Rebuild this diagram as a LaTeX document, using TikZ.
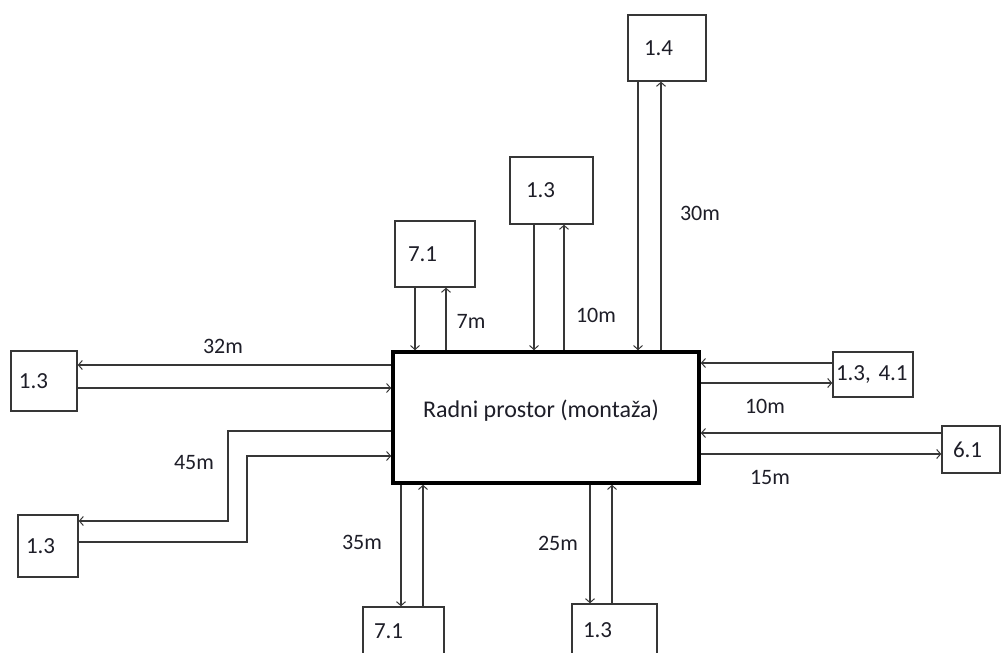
\documentclass[tikz,border=0pt]{standalone}
\usepackage{fontspec}
\setmainfont{Carlito}
\usetikzlibrary{arrows.meta}
\definecolor{ln}{HTML}{363636}
\definecolor{tx}{HTML}{1E1E28}
\tikzset{
  bx/.style={draw=ln, line width=1.4pt, rectangle, align=left, text=tx, font=\fontsize{23}{27}\selectfont, inner ysep=0pt},
  mainbox/.style={draw=black, line width=3.6pt, rectangle},
  conn/.style={draw=ln, line width=1.3pt, -{Straight Barb[length=4pt,width=9pt,line width=1pt]}},
  dist/.style={text=tx, font=\fontsize{22}{26}\selectfont, inner sep=0pt}
}
\begin{document}
\begin{tikzpicture}[x=1pt,y=-1pt]
\useasboundingbox (0,0) rectangle (1001,653);
\clip (0,0) rectangle (1001,653);
\fill[white] (0,0) rectangle (1001,653);
% main
\node[mainbox, minimum width=306pt, minimum height=131pt,
  label={[text=tx, font=\fontsize{24}{28}\selectfont, xshift=-5pt, yshift=7pt]center:Radni prostor (montaža)}] (M) at (546,417.5) {};
% boxes
\node[bx, minimum height=60pt, text width=50pt, inner xsep=8pt] (L1) at (44,381) {1.3};
\node[bx, minimum height=62pt, text width=44pt, inner xsep=8pt] (L2) at (48,546) {1.3};
\node[bx, minimum height=48pt, text width=59pt, inner xsep=11pt] (B1) at (403.5,631) {7.1};
\node[bx, minimum height=52pt, text width=63pt, inner xsep=11pt] (B2) at (614.5,630) {1.3};
\node[bx, minimum height=45pt, text width=74pt, inner xsep=3pt] (R1) at (873,374.5) {1.3, 4.1};
\node[bx, minimum height=47pt, text width=36pt, inner xsep=11pt] (R2) at (971,449.5) {6.1};
\node[bx, minimum height=66pt, text width=54pt, inner xsep=13pt] (T1) at (435,254) {7.1};
\node[bx, minimum height=67pt, text width=51pt, inner xsep=16pt] (T2) at (551.5,190.5) {1.3};
\node[bx, minimum height=66pt, text width=46pt, inner xsep=16pt] (T3) at (667,48) {1.4};
% helper coordinates
\coordinate (yl1) at (0,365); \coordinate (yl2) at (0,388);
\coordinate (yl3) at (0,431); \coordinate (yl4) at (0,521);
\coordinate (yl5) at (0,542); \coordinate (yl6) at (0,456);
\coordinate (xk1) at (228,0); \coordinate (xk2) at (247,0);
\coordinate (xb1) at (401,0); \coordinate (xb2) at (423,0);
\coordinate (xb3) at (590,0); \coordinate (xb4) at (612,0);
\coordinate (yr1) at (0,363); \coordinate (yr2) at (0,383);
\coordinate (yr3) at (0,433); \coordinate (yr4) at (0,454);
\coordinate (xt1) at (415,0); \coordinate (xt2) at (446,0);
\coordinate (xt3) at (534,0); \coordinate (xt4) at (564,0);
\coordinate (xt5) at (638,0); \coordinate (xt6) at (661,0);
% left
\draw[conn] (M.west |- yl1) -- (L1.east |- yl1);
\draw[conn] (L1.east |- yl2) -- (M.west |- yl2);
\draw[conn] (M.west |- yl3) -- (xk1 |- yl3) -- (xk1 |- yl4) -- (L2.east |- yl4);
\draw[conn] (L2.east |- yl5) -- (xk2 |- yl5) -- (xk2 |- yl6) -- (M.west |- yl6);
% bottom
\draw[conn] (xb1 |- M.south) -- (xb1 |- B1.north);
\draw[conn] (xb2 |- B1.north) -- (xb2 |- M.south);
\draw[conn] (xb3 |- M.south) -- (xb3 |- B2.north);
\draw[conn] (xb4 |- B2.north) -- (xb4 |- M.south);
% right
\draw[conn] (R1.west |- yr1) -- (M.east |- yr1);
\draw[conn] (M.east |- yr2) -- (R1.west |- yr2);
\draw[conn] (R2.west |- yr3) -- (M.east |- yr3);
\draw[conn] (M.east |- yr4) -- (R2.west |- yr4);
% top
\draw[conn] (xt1 |- T1.south) -- (xt1 |- M.north);
\draw[conn] (xt2 |- M.north) -- (xt2 |- T1.south);
\draw[conn] (xt3 |- T2.south) -- (xt3 |- M.north);
\draw[conn] (xt4 |- M.north) -- (xt4 |- T2.south);
\draw[conn] (xt5 |- T3.south) -- (xt5 |- M.north);
\draw[conn] (xt6 |- M.north) -- (xt6 |- T3.south);
% distance labels
\node[dist] (d32) at (223,346) {32m};
\node[dist] (d45) at (194,463) {45m};
\node[dist] (d35) at (362,542) {35m};
\node[dist] (d25) at (558,543) {25m};
\node[dist] (d10r) at (765,406) {10m};
\node[dist] (d15) at (770,477) {15m};
\node[dist] (d7) at (471,321) {7m};
\node[dist] (d10t) at (596,315) {10m};
\node[dist] (d30) at (700,213) {30m};
\end{tikzpicture}
\end{document}
